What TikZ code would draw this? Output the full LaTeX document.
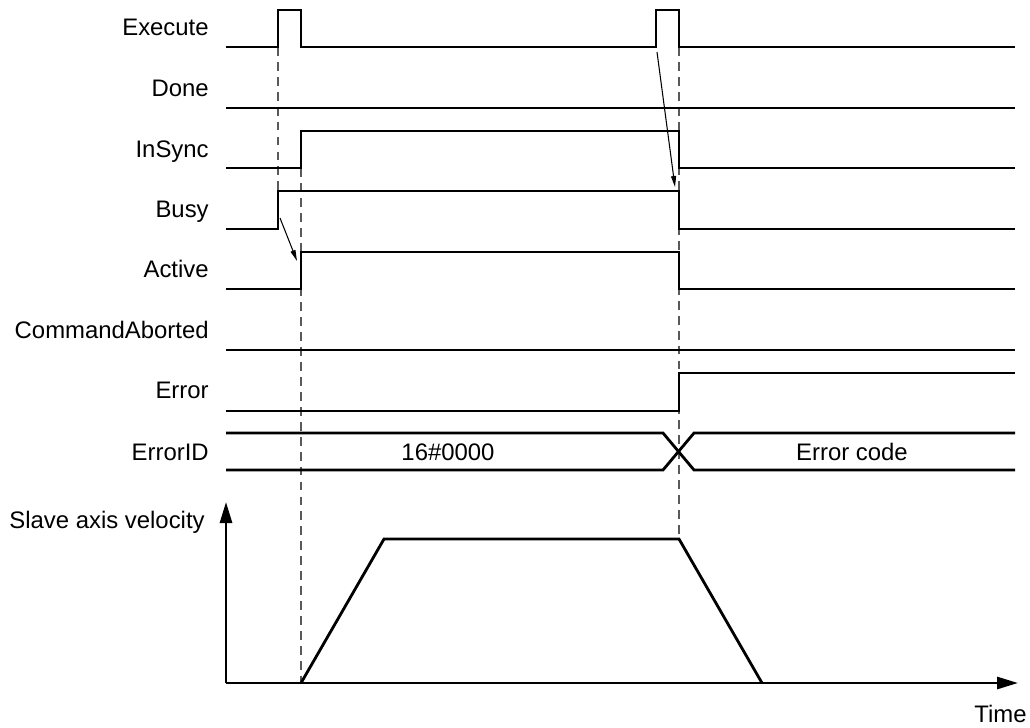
\documentclass[tikz,border=0pt]{standalone}
\usepackage{fontspec}
\setmainfont{Liberation Sans}
\usetikzlibrary{arrows.meta}

\begin{document}
\begin{tikzpicture}[x=0.02cm,y=-0.02cm,
  lab/.style={anchor=base east,inner sep=0pt,font=\fontsize{13.6}{16}\selectfont},
  val/.style={anchor=base,inner sep=0pt,font=\fontsize{13.6}{16}\selectfont},
  sig/.style={line width=1.6pt,line join=miter},
  guide/.style={draw=gray!70!black,line width=0.9pt,dash pattern=on 5pt off 3.5pt},
  arr/.style={-{Triangle[length=0.22cm,width=0.1cm]},line width=0.6pt},
  axis/.style={line width=1.6pt,-{Triangle[length=0.42cm,width=0.24cm]}}
]
\useasboundingbox (0,0) rectangle (1030,727);

\node[lab] (execute) at (209,35)  {Execute};
\node[lab] (done)    at (209,96)  {Done};
\node[lab] (insync)  at (209,157) {InSync};
\node[lab] (busy)    at (209,217) {Busy};
\node[lab] (active)  at (209,277) {Active};
\node[lab] (aborted) at (209,338) {CommandAborted};
\node[lab] (error)   at (209,398) {Error};
\node[lab] (errid)   at (209,460) {ErrorID};
\node[lab] (vel)     at (205,528) {Slave axis velocity};
\node[lab] (time)    at (1027,722) {Time};
\node[val] (code0)   at (448,460) {16\#0000};
\node[val] (code1)   at (852,460) {Error code};

\draw[guide] (278,47)--(278,191);
\draw[guide] (301,168)--(301,683);
\draw[guide] (679,47)--(679,539);

\draw[sig] (226,47) -| (278,10) -| (301,47) -| (656,10) -| (679,47) -- (1015,47);
\draw[sig] (226,108) -- (1015,108);
\draw[sig] (226,168) -| (301,131) -| (679,168) -- (1015,168);
\draw[sig] (226,229) -| (278,191) -| (679,229) -- (1015,229);
\draw[sig] (226,289) -| (301,252) -| (679,289) -- (1015,289);
\draw[sig] (226,350) -- (1015,350);
\draw[sig] (226,411) -| (679,373) -- (1015,373);
\draw[sig] (226,433) -- (663,433) -- (694,470) -- (1015,470);
\draw[sig] (226,470) -- (663,470) -- (694,433) -- (1015,433);

\coordinate (o) at (226,683);
\draw[axis] (o) -- (226,502);
\draw[axis] (o) -- (1018,683);
\draw[sig] (301,683) -- (384,539) -- (679,539) -- (762,683);

\coordinate (busyedge) at (280,218);
\coordinate (activeedge) at (297,261);
\coordinate (execedge) at (657,52);
\coordinate (busyfall) at (675,187);
\draw[arr] (busyedge) -- (activeedge);
\draw[arr] (execedge) -- (busyfall);
\end{tikzpicture}
\end{document}
